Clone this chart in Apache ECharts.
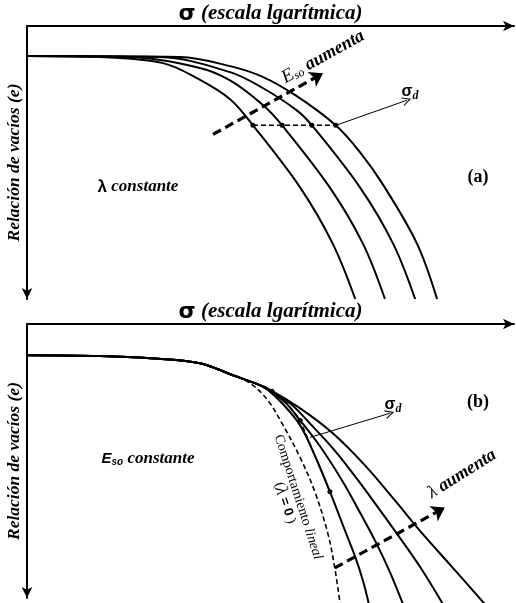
<!DOCTYPE html>
<html><head><meta charset="utf-8">
<script src="https://cdn.jsdelivr.net/npm/echarts@6/dist/echarts.min.js"></script>
<style>html,body{margin:0;padding:0;background:#fff}#c{width:516px;height:603px}</style>
</head><body><div id="c"></div>
<script>
// Axis span: log(σ) units along x, void ratio e along y
const sigmaRange = [0, 10];
const eRange = [0, 1];

// Panel (a): λ constant, E_so grows from curve 1 to curve 4
const curveA1 = [[0,0.890],[1.50,0.886],[2.79,0.864],[3.49,0.809],[4.17,0.732],[4.64,0.636],[5.61,0.408],[6.28,0.202],[6.74,0]];
const curveA2 = [[0,0.890],[2.11,0.886],[3.49,0.849],[4.17,0.801],[4.85,0.710],[5.24,0.636],[6.22,0.408],[6.90,0.202],[7.35,0]];
const curveA3 = [[0,0.890],[2.73,0.886],[4.17,0.831],[4.85,0.772],[5.54,0.691],[5.85,0.636],[6.84,0.408],[7.52,0.202],[7.97,0]];
const curveA4 = [[0,0.890],[3.14,0.886],[4.17,0.853],[4.85,0.813],[5.54,0.743],[6.34,0.636],[6.84,0.537],[7.31,0.419],[8.01,0.202],[8.42,0]];
const sigmaDA = [[4.64,0.636],[5.24,0.636],[5.85,0.636],[6.34,0.636]];
const esoArrowA = [[3.82,0.603],[6.08,0.827]];
const sigmaDArrowA = [[6.34,0.636],[7.80,0.728]];

// Panel (b): E_so constant, λ grows from curve 1 to curve 4
const commonB = [[0,0.886],[1.50,0.883],[2.53,0.875],[3.55,0.857],[4.23,0.813],[4.78,0.777]];
const tailB1 = [[4.93,0.762],[5.26,0.707],[5.61,0.630],[5.91,0.520],[6.22,0.388],[6.49,0.264],[6.74,0.150],[6.90,0.062],[7.02,-0.022]];
const tailB2 = [[4.93,0.762],[5.30,0.714],[5.61,0.648],[6.02,0.553],[6.47,0.429],[6.84,0.311],[7.19,0.194],[7.45,0.095],[7.72,-0.022]];
const tailB3 = [[4.93,0.762],[5.40,0.711],[5.81,0.637],[6.32,0.538],[6.80,0.429],[7.21,0.330],[7.60,0.234],[8.07,0.114],[8.54,-0.022]];
const tailB4 = [[4.93,0.766],[5.61,0.692],[6.28,0.601],[6.94,0.484],[7.56,0.355],[8.07,0.245],[8.69,0.121],[9.40,-0.022]];
const linearB = [[3.55,0.857],[4.23,0.813],[4.58,0.784],[4.93,0.725],[5.26,0.630],[5.61,0.512],[5.91,0.388],[6.18,0.234],[6.32,0.110],[6.43,-0.022]];
const sigmaDB = [[5.03,0.755],[5.30,0.722],[5.61,0.648],[6.22,0.388]];
const sigmaDArrowB = [[5.81,0.586],[7.45,0.674]];
const lambdaArrowB = [[6.32,0.110],[8.58,0.330]];

// Text
const xTitle = '{s|σ}{t| (escala lgarítmica)}';
const yTitle = 'Relación de vacíos (e)';
const panelTags = ['(a)', '(b)'];

const serif = 'Liberation Serif';
const sans = 'Liberation Sans';
const openArrow = 'path://M0,10 L5,0 L10,10 L8.7,10 L5,2.6 L1.3,10 Z';

function axisX(grid) {
  return {
    gridIndex: grid, type: 'value', position: 'top', min: sigmaRange[0], max: sigmaRange[1],
    axisLine: { show: true, onZero: false, symbol: ['none', 'arrow'], symbolSize: [8, 11],
      lineStyle: { color: '#000', width: 2 } },
    axisTick: { show: false }, axisLabel: { show: false }, splitLine: { show: false },
    name: xTitle, nameLocation: 'middle', nameGap: 1,
    nameTextStyle: { rich: {
      s: { fontFamily: 'DejaVu Sans', fontWeight: 'bold', fontSize: 22, color: '#000' },
      t: { fontFamily: serif, fontWeight: 'bold', fontStyle: 'italic', fontSize: 21, color: '#000' }
    } }
  };
}
function axisY(grid) {
  return {
    gridIndex: grid, type: 'value', position: 'left', min: eRange[0], max: eRange[1],
    axisLine: { show: true, onZero: false, symbol: ['arrow', 'none'], symbolSize: [8, 11],
      lineStyle: { color: '#000', width: 2 } },
    axisTick: { show: false }, axisLabel: { show: false }, splitLine: { show: false },
    name: yTitle, nameLocation: 'middle', nameRotate: 90, nameGap: 4,
    nameTextStyle: { fontFamily: serif, fontWeight: 'bold', fontStyle: 'italic', fontSize: 17.5, color: '#000' }
  };
}
function curve(data, g, dashed) {
  return { type: 'line', xAxisIndex: g, yAxisIndex: g, data: data, smooth: 0.35,
    showSymbol: false, clip: false, silent: true,
    lineStyle: { color: '#000', width: dashed ? 1.6 : 2, type: dashed ? [5, 3] : 'solid' } };
}
function dots(data, g) {
  return { type: 'line', xAxisIndex: g, yAxisIndex: g, data: data, showSymbol: true, showAllSymbol: true,
    symbol: 'circle', symbolSize: 5, clip: false, silent: true,
    itemStyle: { color: '#000' }, lineStyle: { color: '#000', width: 1.5, type: [5, 3] } };
}
function arrow(coords, g, thick) {
  return { type: 'lines', coordinateSystem: 'cartesian2d', xAxisIndex: g, yAxisIndex: g, silent: true,
    symbol: ['none', thick ? 'arrow' : openArrow], symbolSize: thick ? [11, 13] : [9, 9],
    lineStyle: { color: '#000', opacity: 1, width: thick ? 3.2 : 1, type: thick ? [9, 5] : 'solid', curveness: 0 },
    data: [{ coords: coords }] };
}
function label(x, y, text, rich, rot) {
  return { type: 'text', x: x, y: y, rotation: rot || 0, silent: true,
    style: { text: text, rich: rich, align: 'center', verticalAlign: 'middle', fill: '#000' } };
}

const R = {
  bs: { fontFamily: serif, fontWeight: 'bold', fontStyle: 'italic', fontSize: 17, color: '#000' },
  lamB: { fontFamily: sans, fontWeight: 'bold', fontSize: 17, color: '#000' },
  E: { fontFamily: sans, fontWeight: 'bold', fontStyle: 'italic', fontSize: 15, color: '#000' },
  Esub: { fontFamily: sans, fontWeight: 'bold', fontStyle: 'italic', fontSize: 10, color: '#000', padding: [6, 0, 0, 0] },
  tag: { fontFamily: serif, fontWeight: 'bold', fontSize: 18, color: '#000' },
  sig: { fontFamily: sans, fontWeight: 'bold', fontSize: 16, color: '#000' },
  d: { fontFamily: serif, fontWeight: 'bold', fontStyle: 'italic', fontSize: 12, color: '#000', padding: [7, 0, 0, 0] },
  Ei: { fontFamily: serif, fontStyle: 'italic', fontSize: 19, color: '#000' },
  so: { fontFamily: serif, fontStyle: 'italic', fontSize: 12, color: '#000', padding: [7, 0, 0, 0] },
  au: { fontFamily: serif, fontWeight: 'bold', fontStyle: 'italic', fontSize: 18, color: '#000' },
  lamI: { fontFamily: serif, fontStyle: 'italic', fontSize: 18, color: '#000' },
  cn: { fontFamily: serif, fontSize: 14, color: '#000' },
  ci: { fontFamily: serif, fontStyle: 'italic', fontSize: 14, color: '#000' },
  z: { fontFamily: sans, fontWeight: 'bold', fontSize: 13, color: '#000' }
};

const chart = echarts.init(document.getElementById('c'), null, { renderer: 'canvas' });
chart.setOption({
  animation: false,
  backgroundColor: '#fff',
  grid: [
    { left: 27, top: 26, width: 487, height: 273, outerBoundsMode: 'none', containLabel: false },
    { left: 27, top: 324, width: 487, height: 274, outerBoundsMode: 'none', containLabel: false }
  ],
  xAxis: [axisX(0), axisX(1)],
  yAxis: [axisY(0), axisY(1)],
  series: [
    curve(curveA1, 0), curve(curveA2, 0), curve(curveA3, 0), curve(curveA4, 0),
    dots(sigmaDA, 0), arrow(esoArrowA, 0, true), arrow(sigmaDArrowA, 0, false),
    curve(commonB.concat(tailB1), 1), curve(commonB.concat(tailB2), 1),
    curve(commonB.concat(tailB3), 1), curve(commonB.concat(tailB4), 1),
    curve(linearB, 1, true),
    dots(sigmaDB, 1), arrow(sigmaDArrowB, 1, false), arrow(lambdaArrowB, 1, true)
  ],
  graphic: [
    label(138, 187, '{lamB|λ}{bs| constante}', R),
    label(478, 177, '{tag|' + panelTags[0] + '}', R),
    label(323, 57, '{Ei|E}{so|so}{au| aumenta}', R, 0.506),
    label(410, 92, '{sig|σ}{d|d}', R),
    label(478, 402, '{tag|' + panelTags[1] + '}', R),
    label(148, 459, '{E|E}{Esub|so}{bs| constante}', R),
    label(393, 405, '{sig|σ}{d|d}', R),
    label(462, 474, '{lamI|λ}{au| aumenta}', R, 0.56),
    label(298, 497, '{cn|Comportamiento }{ci|lineal}', R, -1.257),
    label(285, 503, '{cn|(}{lamI|λ}{z| = 0 }{cn|)}', R, -1.257)
  ]
});
</script>
</body></html>
